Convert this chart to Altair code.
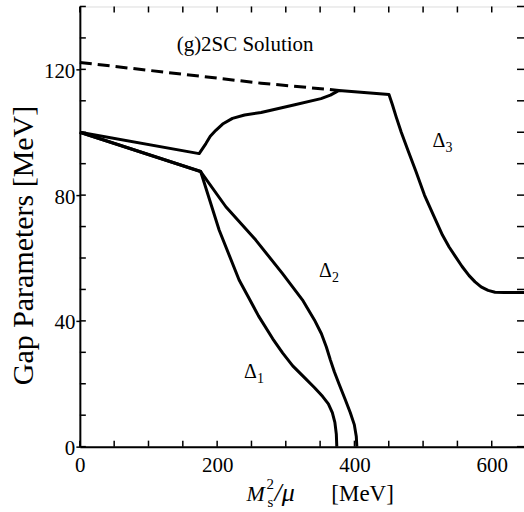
import altair as alt
import pandas as pd

# ---- gap parameter curves (MeV) versus M_s^2/mu (MeV) ----
# Delta_3 branch: falls from 100, cusp near 174, rises to the dashed line, then drops to a plateau
d3_x = [0, 173.8, 183.6, 190, 198.1, 208, 222.3, 240, 264, 310, 351.3, 365, 377.5,
        450.3, 455.1, 460.9, 468.2, 477.9, 489.5, 502.0, 514.7, 528.2, 537.9, 546.7,
        556.8, 567.0, 575.7, 584.5, 594.7, 604.8, 617.9, 647]
d3_y = [100.0, 93.2, 96.4, 98.7, 100.6, 102.6, 104.4, 105.5, 106.3, 108.6, 110.7, 111.8, 113.3,
        112.0, 108.9, 104.8, 100.0, 94.3, 87.6, 80.0, 73.8, 67.3, 63.5, 60.6,
        57.3, 54.4, 52.4, 50.8, 49.7, 49.1, 49.0, 49.0]

# Delta_1 branch
d1_x = [0, 176, 202.9, 232, 247.2, 260.2, 281, 295.3, 310.1, 328, 341.6, 353.5, 362,
        367.8, 371.5, 373.6, 374.3]
d1_y = [100.0, 87.5, 68.9, 53.0, 46.9, 41.6, 34.3, 29.8, 25.7, 21.8, 18.8, 16.0, 13.6,
        10.8, 7.7, 4.0, 0.0]

# Delta_2 branch
d2_x = [0, 176, 212.7, 256.3, 295, 324.2, 341.7, 351.9, 359.1, 364.9, 370.7, 378.0,
        386.7, 394.0, 399.8, 402.7, 403.5]
d2_y = [100.0, 87.5, 76.3, 65.7, 55.1, 46.7, 40.3, 35.9, 31.7, 27.6, 23.8, 19.7,
        14.9, 10.8, 7.0, 3.2, 0.0]

# dashed branch
dash_x = [0, 264, 377.5]
dash_y = [122.2, 115.6, 113.3]

# axis ticks
x_major = [0, 200, 400, 600]
y_major = [0, 40, 80, 120]
x_minor = list(range(0, 647, 50))
y_minor = list(range(0, 141, 10))

# curve labels
lab_text = ["\u0394", "\u0394", "\u0394"]
lab_sub = ["1", "2", "3"]
lab_x = [239.3, 348.4, 513.7]
lab_y = [21.8, 54.1, 95.3]

W, H = 445, 441
X_DOM = [0, 647]
Y_DOM = [0, 140]
FONT = "Liberation Serif"

def frame(name, xs, ys):
    return pd.DataFrame({"x": xs, "y": ys, "branch": name, "i": range(len(xs))})

solid = pd.concat([frame("d3", d3_x, d3_y), frame("d1", d1_x, d1_y), frame("d2", d2_x, d2_y)])
dashed = frame("dash", dash_x, dash_y)

xs = alt.Scale(domain=X_DOM, nice=False, zero=False)
ys = alt.Scale(domain=Y_DOM, nice=False, zero=False)

x_axis = alt.Axis(values=x_major, tickSize=0, labelPadding=8, labelFont=FONT, labelFontSize=21,
                  labelColor="black", domainColor="black", domainWidth=2, grid=False,
                  labelFlush=False, format="d")
y_axis = alt.Axis(values=y_major, tickSize=4, tickWidth=1.5, tickColor="black", labelPadding=1,
                  labelFont=FONT, labelFontSize=21, labelColor="black", labelOffset=2,
                  domainColor="black", domainWidth=2, grid=False, labelFlush=False, format="d",
                  title="Gap Parameters  [MeV]", titleFont=FONT, titleFontSize=30,
                  titleFontWeight="normal", titleColor="black", titleAngle=270,
                  titleX=-47, titleY=239, titleAlign="center", titleBaseline="alphabetic")

lines = alt.Chart(solid).mark_line(color="black", strokeWidth=3, strokeJoin="round").encode(
    x=alt.X("x:Q", scale=xs, axis=x_axis, title=None),
    y=alt.Y("y:Q", scale=ys, axis=y_axis),
    detail="branch:N",
    order="i:Q",
)

dash_line = alt.Chart(dashed).mark_line(color="black", strokeWidth=3, strokeDash=[12, 6]).encode(
    x=alt.X("x:Q", scale=xs), y=alt.Y("y:Q", scale=ys), order="i:Q"
)

# inward tick marks on all four sides
tick_style = dict(color="black", strokeWidth=1.5)
ytk = pd.DataFrame({"v": y_minor})
xtk = pd.DataFrame({"v": x_minor})
left_ticks = alt.Chart(ytk).mark_rule(**tick_style).encode(
    y=alt.Y("v:Q", scale=ys), x=alt.value(0), x2=alt.value(6))
right_ticks = alt.Chart(ytk).mark_rule(**tick_style).encode(
    y=alt.Y("v:Q", scale=ys), x=alt.value(W - 7), x2=alt.value(W))
bottom_ticks = alt.Chart(xtk).mark_rule(**tick_style).encode(
    x=alt.X("v:Q", scale=xs), y=alt.value(H), y2=alt.value(H - 6))
top_ticks = alt.Chart(xtk).mark_rule(**tick_style).encode(
    x=alt.X("v:Q", scale=xs), y=alt.value(0), y2=alt.value(6))

# panel title
title_df = pd.DataFrame({"x": [240.7], "y": [127.6], "t": ["(g)2SC Solution"]})
panel_title = alt.Chart(title_df).mark_text(font=FONT, fontSize=21, color="black",
                                            align="center", baseline="middle").encode(
    x=alt.X("x:Q", scale=xs), y=alt.Y("y:Q", scale=ys), text="t:N")

labels = pd.DataFrame({"x": lab_x, "y": lab_y, "t": lab_text, "s": lab_sub})
delta = alt.Chart(labels).mark_text(font=FONT, fontSize=20, color="black",
                                    align="left", baseline="alphabetic").encode(
    x=alt.X("x:Q", scale=xs), y=alt.Y("y:Q", scale=ys), text="t:N")
delta_sub = alt.Chart(labels).mark_text(font=FONT, fontSize=14, color="black",
                                        align="left", baseline="alphabetic", dx=13, dy=5).encode(
    x=alt.X("x:Q", scale=xs), y=alt.Y("y:Q", scale=ys), text="s:N")

# x-axis title  M_s^2 / mu  [MeV]
def piece(txt, px, py, size, italic=False):
    kw = dict(font=FONT, fontSize=size, color="black", align="left", baseline="alphabetic")
    if italic:
        kw["fontStyle"] = "italic"
    return alt.Chart(pd.DataFrame({"t": [txt]})).mark_text(**kw).encode(
        x=alt.value(px), y=alt.value(py), text="t:N")

x_title = [
    piece("M", 167, 495, 22, italic=True),
    piece("2", 187, 483, 15),
    piece("s", 188, 501, 15),
    piece("/\u03bc", 195, 495, 26, italic=True),
    piece("[MeV]", 252, 495, 23),
]

chart = alt.layer(
    left_ticks, right_ticks, bottom_ticks, top_ticks,
    lines, dash_line, panel_title, delta, delta_sub, *x_title
).properties(
    width=W, height=H,
    autosize=alt.AutoSizeParams(type="none"),
    padding={"left": 80, "top": 6, "right": 0, "bottom": 65},
).configure_view(
    stroke="black", strokeWidth=2
).configure(background="white")

chart.save("out.html", embed_options={"renderer": "svg", "actions": False})
